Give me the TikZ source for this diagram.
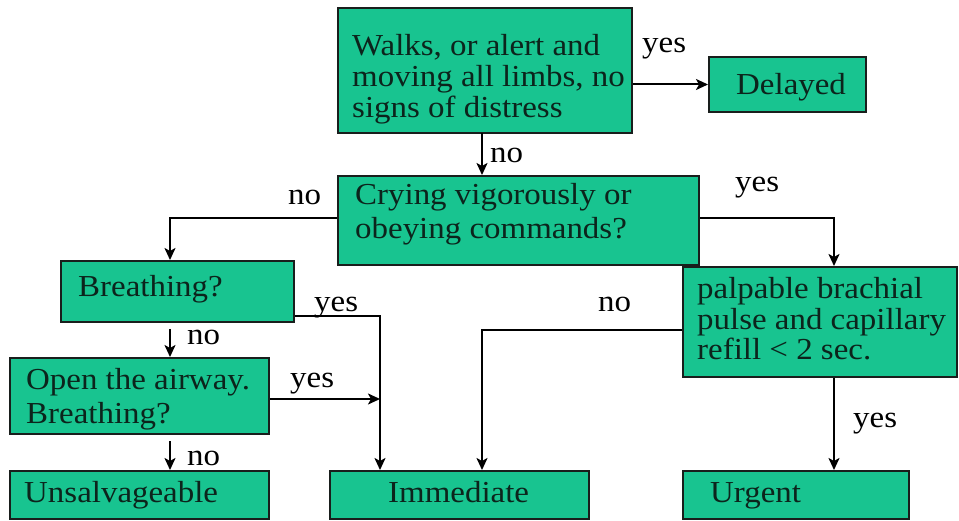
\documentclass[tikz,border=0pt]{standalone}
\usepackage{fontspec}
\setmainfont{Liberation Serif}[FakeStretch=1.08]
\usetikzlibrary{arrows.meta}
\definecolor{boxfill}{RGB}{24,196,144}
\definecolor{boxtext}{RGB}{12,36,28}
\definecolor{edgecol}{RGB}{25,30,28}
\begin{document}
\begin{tikzpicture}[x=1pt,y=-1pt,
  box/.style={draw=edgecol, line width=2pt, fill=boxfill, inner sep=0pt},
  boxtxt/.style={anchor=base west, inner sep=0pt, text=boxtext,
    font=\fontsize{30.5}{31}\selectfont, align=left},
  widelines/.style={font=\fontsize{30.5}{34}\selectfont},
  lbl/.style={anchor=base west, inner sep=0pt, font=\fontsize{30.5}{32}\selectfont},
  link/.style={line width=2pt, draw=black},
  arr/.style={link, -{Stealth[length=12pt,width=11pt,inset=3pt]}}]
\useasboundingbox (0,0) rectangle (959,521);
\fill[white] (0,0) rectangle (959,521);

% decision and outcome boxes
\node[box, minimum width=294pt, minimum height=125pt] (walks) at (485,70.5) {};
\node[box, minimum width=157pt, minimum height=55pt] (delayed) at (787.5,84.5) {};
\node[box, minimum width=361pt, minimum height=89pt] (crying) at (518.5,220.5) {};
\node[box, minimum width=233pt, minimum height=61pt] (breathing) at (177.5,291.5) {};
\node[box, minimum width=259pt, minimum height=76pt] (open) at (139.5,396) {};
\node[box, minimum width=259pt, minimum height=48pt] (unsalv) at (139.5,495) {};
\node[box, minimum width=259pt, minimum height=48pt] (immediate) at (459.5,495) {};
\node[box, minimum width=274pt, minimum height=110pt] (palpable) at (820,322) {};
\node[box, minimum width=226pt, minimum height=48pt] (urgent) at (796,495) {};

% box texts (anchored on the baseline of their last line)
\node[boxtxt] (walks-t) at (352,118) {Walks, or alert and\\moving all limbs, no\\signs of distress};
\node[boxtxt] (delayed-t) at (736,95) {Delayed};
\node[boxtxt, widelines] (crying-t) at (355,239) {Crying vigorously or\\obeying commands?};
\node[boxtxt] (breathing-t) at (78,297) {Breathing?};
\node[boxtxt, widelines] (open-t) at (26,423) {Open the airway.\\Breathing?};
\node[boxtxt] (unsalv-t) at (24,502) {Unsalvageable};
\node[boxtxt] (immediate-t) at (388,502) {Immediate};
\node[boxtxt] (palpable-t) at (697,360) {palpable brachial\\pulse and capillary\\refill < 2 sec.};
\node[boxtxt] (urgent-t) at (710,502) {Urgent};

% connector bend points and free ends
\coordinate (crydown) at (482,133);
\coordinate (leftbend) at (170,218);
\coordinate (rightbend) at (834,218);
\coordinate (breyes) at (380,316);
\coordinate (joinpt) at (380,399);
\coordinate (nobend) at (482,330);
\coordinate (brno) at (170,329);
\coordinate (opno) at (170,441);

% connectors
\draw[arr] (walks.east |- delayed.west) -- (delayed.west);
\draw[arr] (crydown) -- (crying.north -| crydown);
\draw[arr] (crying.west |- leftbend) -- (leftbend) -- (breathing.north -| leftbend);
\draw[arr] (crying.east |- rightbend) -- (rightbend) -- (palpable.north -| rightbend);
\draw[arr] (breathing.east |- breyes) -- (breyes) -- (immediate.north -| breyes);
\draw[arr] (brno) -- (open.north -| brno);
\draw[arr] (open.east |- joinpt) -- (joinpt);
\draw[arr] (opno) -- (unsalv.north -| opno);
\draw[arr] (palpable.west |- nobend) -- (nobend) -- (immediate.north -| nobend);
\draw[arr] (palpable.south -| rightbend) -- (urgent.north -| rightbend);

% branch labels
\node[lbl] (l-yes1) at (642,53) {yes};
\node[lbl] (l-no1) at (490,163) {no};
\node[lbl] (l-no2) at (288,205) {no};
\node[lbl] (l-yes2) at (735,192) {yes};
\node[lbl] (l-yes3) at (314,312) {yes};
\node[lbl] (l-no3) at (187,345) {no};
\node[lbl] (l-yes4) at (290,388) {yes};
\node[lbl] (l-no4) at (187,465) {no};
\node[lbl] (l-no5) at (598,312) {no};
\node[lbl] (l-yes5) at (853,427) {yes};
\end{tikzpicture}
\end{document}
